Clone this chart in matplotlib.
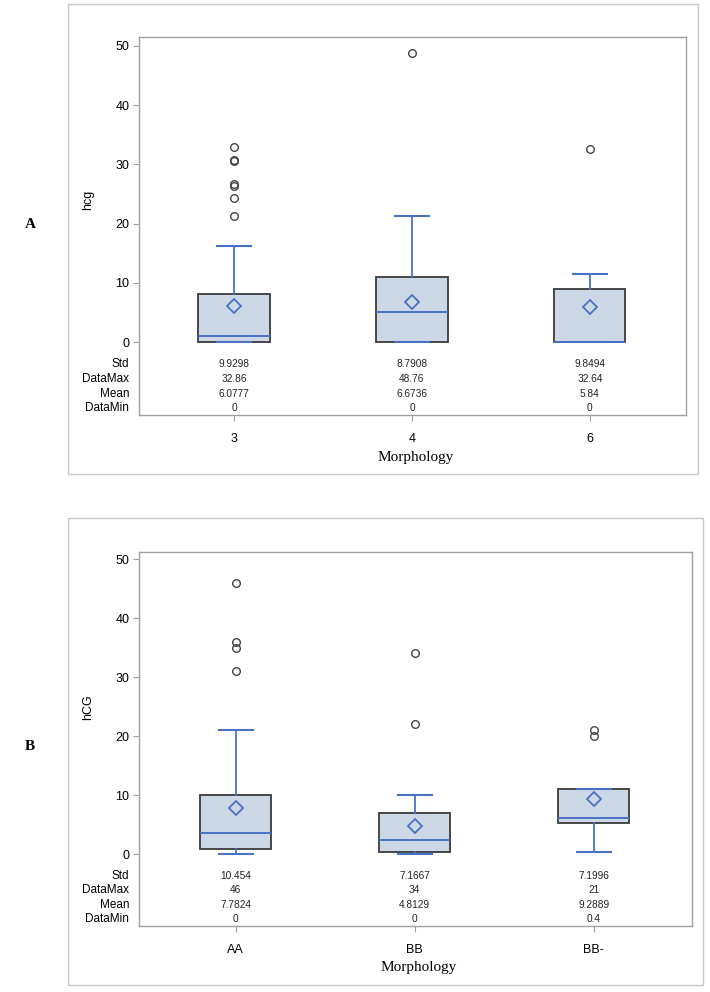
import matplotlib
matplotlib.use("Agg")
import matplotlib.pyplot as plt
from matplotlib.patches import Rectangle
import matplotlib.transforms as mtransforms

# ---------------- data ----------------
cats_a = ["3", "4", "6"]
q1_a = [0.0, 0.0, 0.0]
med_a = [1.0, 5.1, 0.0]
q3_a = [8.1, 10.9, 9.0]
wlo_a = [0.0, 0.0, 0.0]
whi_a = [16.3, 21.2, 11.5]
mean_a = [6.0777, 6.6736, 5.84]
out_a = [[21.2, 24.4, 26.4, 26.7, 30.5, 30.7, 32.86], [48.76], [32.64]]
std_a = ["9.9298", "8.7908", "9.8494"]
dmax_a = ["32.86", "48.76", "32.64"]
dmean_a = ["6.0777", "6.6736", "5.84"]
dmin_a = ["0", "0", "0"]

cats_b = ["AA", "BB", "BB-"]
q1_b = [0.8, 0.4, 5.2]
med_b = [3.6, 2.3, 6.1]
q3_b = [10.0, 7.0, 11.0]
wlo_b = [0.0, 0.0, 0.4]
whi_b = [21.0, 10.0, 11.0]
mean_b = [7.7824, 4.8129, 9.2889]
out_b = [[31.0, 35.0, 36.0, 46.0], [22.0, 34.0], [20.0, 21.0]]
std_b = ["10.454", "7.1667", "7.1996"]
dmax_b = ["46", "34", "21"]
dmean_b = ["7.7824", "4.8129", "9.2889"]
dmin_b = ["0", "0", "0.4"]

row_names = ["Std", "DataMax", "Mean", "DataMin"]
yticks = [0, 10, 20, 30, 40, 50]

# ---------------- style ----------------
W, H = 710, 992
FILL = "#cdd8e7"
EDGE = "#3a3a3a"
BLUE = "#4a72c4"
FRAME = "#a0a0a0"
SANS = ["Liberation Sans", "DejaVu Sans"]
SERIF = ["Liberation Serif", "DejaVu Serif"]

fig = plt.figure(figsize=(W / 100, H / 100), dpi=100)


def px_rect(l, t, r, b):
    return [l / W, 1 - b / H, (r - l) / W, (b - t) / H]


def panel(border, axbox, xlim, ylim, cats, q1, med, q3, wlo, whi, means, outs,
          table, ylabel, letter, letter_y, ylabel_xy, xlabel_y):
    bl, bt, br, bb = border
    fig.patches.append(Rectangle((bl / W, 1 - bb / H), (br - bl) / W, (bb - bt) / H,
                                 transform=fig.transFigure, fill=False,
                                 edgecolor="#c8c8c8", linewidth=1.0))
    ax = fig.add_axes(px_rect(*axbox))
    stats = []
    for i in range(len(cats)):
        stats.append(dict(med=med[i], q1=q1[i], q3=q3[i], whislo=wlo[i],
                          whishi=whi[i], fliers=outs[i], mean=means[i]))
    pos = list(range(len(cats)))
    ax.bxp(stats, positions=pos, widths=0.4, patch_artist=True, showmeans=True,
           boxprops=dict(facecolor=FILL, edgecolor=EDGE, linewidth=1.3),
           medianprops=dict(color=BLUE, linewidth=1.4),
           whiskerprops=dict(color=BLUE, linewidth=1.3),
           capprops=dict(color=BLUE, linewidth=1.5),
           capwidths=0.19,
           flierprops=dict(marker="o", markerfacecolor="none",
                           markeredgecolor="#444444", markersize=5.5,
                           markeredgewidth=1.0),
           meanprops=dict(marker="D", markerfacecolor="none",
                          markeredgecolor=BLUE, markersize=7,
                          markeredgewidth=1.3))
    ax.set_xlim(*xlim)
    ax.set_ylim(*ylim)
    ax.set_yticks(yticks)
    ax.set_yticklabels([str(v) for v in yticks], family=SANS, fontsize=9)
    ax.set_xticks(pos)
    ax.set_xticklabels(cats, family=SANS, fontsize=9)
    ax.tick_params(axis="both", length=4, color=FRAME, pad=3)
    ax.tick_params(axis="x", pad=9)
    for s in ax.spines.values():
        s.set_color(FRAME)
        s.set_linewidth(1.0)
    # stats table
    row_y = [0.135, 0.095, 0.056, 0.018]
    trans = mtransforms.blended_transform_factory(ax.transData, ax.transAxes)
    for r, (name, vals) in enumerate(zip(row_names, table)):
        ax.text(-0.018, row_y[r], name, transform=ax.transAxes, ha="right",
                va="center", family=SANS, fontsize=8.5)
        for i, v in enumerate(vals):
            ax.text(pos[i], row_y[r], v, transform=trans, ha="center",
                    va="center", family=SANS, fontsize=7.3, color="#222222")
    fig.text(ylabel_xy[0] / W, 1 - ylabel_xy[1] / H, ylabel, rotation=90,
             ha="center", va="center", family=SANS, fontsize=9)
    ax_l, ax_t, ax_r, ax_b = axbox
    fig.text(((ax_l + ax_r) / 2 + 3) / W, 1 - xlabel_y / H, "Morphology",
             ha="center", va="center", family=SERIF, fontsize=11)
    fig.text(30 / W, 1 - letter_y / H, letter, ha="center", va="center",
             family=SERIF, fontsize=11, fontweight="bold")
    return ax


panel(border=(68, 4, 698, 474), axbox=(139, 37, 686, 415),
      xlim=(-0.534, 2.54), ylim=(-12.33, 51.52),
      cats=cats_a, q1=q1_a, med=med_a, q3=q3_a, wlo=wlo_a, whi=whi_a,
      means=mean_a, outs=out_a,
      table=[std_a, dmax_a, dmean_a, dmin_a], ylabel="hcg", letter="A",
      letter_y=225, ylabel_xy=(88, 200), xlabel_y=457)

panel(border=(68, 518, 703, 985), axbox=(139, 552, 692, 926),
      xlim=(-0.54, 2.55), ylim=(-12.2, 51.2),
      cats=cats_b, q1=q1_b, med=med_b, q3=q3_b, wlo=wlo_b, whi=whi_b,
      means=mean_b, outs=out_b,
      table=[std_b, dmax_b, dmean_b, dmin_b], ylabel="hCG", letter="B",
      letter_y=746, ylabel_xy=(88, 707), xlabel_y=967)

fig.savefig("out.png", dpi=100)
